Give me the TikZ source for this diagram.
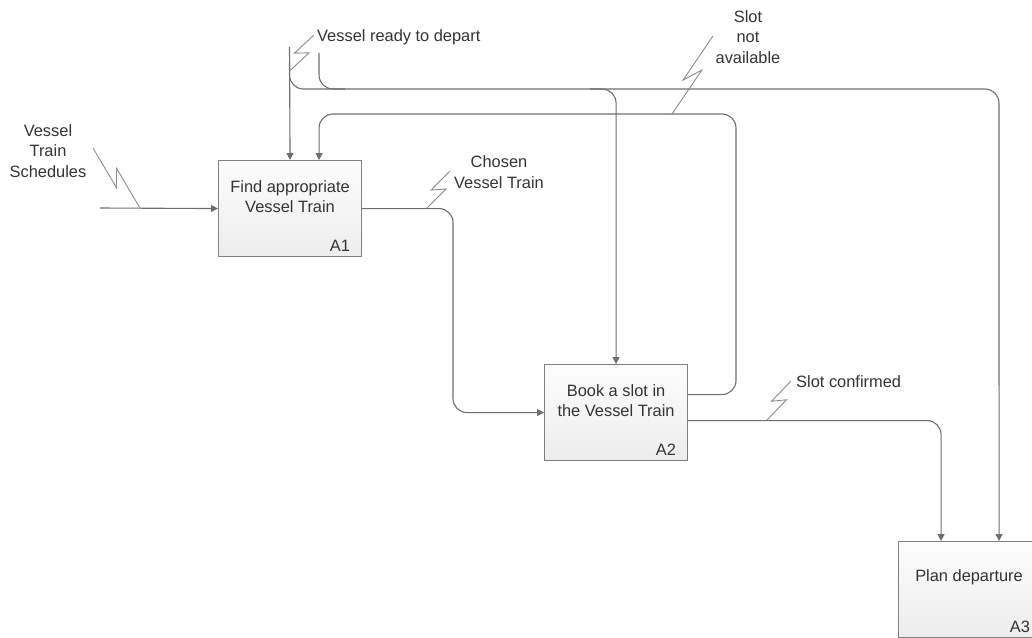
\documentclass[tikz,border=0pt]{standalone}
\usepackage{fontspec}
\setmainfont{Liberation Sans}
\usetikzlibrary{calc}
\usetikzlibrary{arrows.meta}
\definecolor{flowgrey}{HTML}{6E6E6E}
\definecolor{boxgrey}{HTML}{808080}
\definecolor{boltgrey}{HTML}{8C8C8C}
\definecolor{labelgrey}{HTML}{333333}

\tikzset{
  activity/.style={draw=boxgrey, line width=1.1pt, top color=black!1, bottom color=black!7,
    minimum width=143pt, minimum height=96pt, inner sep=0pt, anchor=north west},
  acttext/.style={align=center, text=labelgrey, inner sep=1pt},
  actid/.style={anchor=base east, text=labelgrey, inner sep=0pt},
  flow/.style={draw=flowgrey, line width=1.1pt, rounded corners=14pt},
  flowin/.style={flow, -{Triangle[length=7pt,width=7pt]}},
  bolt/.style={draw=boltgrey, line width=0.9pt},
  arrowlabel/.style={align=center, text=labelgrey, inner sep=1pt},
}
% lightning mark from a connector out to its label
\newcommand{\squiggle}[2]{\draw[bolt] (#1) -- ($(#1)!0.6!(#2)!6pt!-90:(#2)$) -- ($(#1)!0.4!(#2)!6pt!90:(#2)$) -- (#2);}

\begin{document}
\begin{tikzpicture}[x=1pt, y=-1pt, font=\fontsize{16.4}{20.5}\selectfont]
\useasboundingbox (0,0) rectangle (1032,637);
\clip (0,0) rectangle (1032,637); % A3 runs off the page

\coordinate (schedIn)      at (100,208);
\coordinate (readyTop)     at (289.5,47);
\coordinate (readyFork)    at (289.5,62);
\coordinate (readyLane)    at (999,89);
\coordinate (readyTopTwo)  at (319,53);
\coordinate (readyJoin)    at (345,89);
\coordinate (readyBranch)  at (590,89);
\coordinate (notAvailTop)  at (736,114);
\coordinate (chosenBend)   at (453,300);

% activities
\node[activity] (findTrain) at (218,160) {};
\node[activity] (bookSlot)  at (544,364) {};
\node[activity] (planDep)   at (898,541) {};

\node[acttext] (findTrainText) at ($(findTrain.center)+(0,-12)$) {Find appropriate\\Vessel Train};
\node[acttext] (bookSlotText)  at ($(bookSlot.center)+(0,-12)$)  {Book a slot in\\the Vessel Train};
\node[acttext] (planDepText)   at ($(planDep.center)+(-1,-12)$)  {Plan departure};

\node[actid] (findTrainId) at ($(findTrain.south east)+(-12,-6)$) {A1};
\node[actid] (bookSlotId)  at ($(bookSlot.south east)+(-12,-6)$)  {A2};
\node[actid] (planDepId)   at ($(planDep.south east)+(-12,-6)$)   {A3};

% arrows
\draw[flowin] (schedIn) -- (findTrain.west);
\draw[flowin] (readyTop) -- (findTrain.north);
\draw[flowin] (readyFork) |- (readyLane) -- ([xshift=29pt]planDep.north);
\draw[flow] (readyTopTwo) |- (readyJoin);
\draw[flowin] (readyBranch) -| (bookSlot.north);
\draw[flowin] (findTrain.east) -| (chosenBend) |- (bookSlot.west);
\draw[flowin] ([yshift=18pt]bookSlot.east) -| (notAvailTop) -| ([xshift=29pt]findTrain.north);
\draw[flowin] ([yshift=-8pt]bookSlot.east) -| ([xshift=-29pt]planDep.north);

% squiggles
\coordinate (schedBoltS)     at (140,208);
\coordinate (schedBoltE)     at (93,148);
\coordinate (readyBoltS)     at (289.5,71);
\coordinate (readyBoltE)     at (314,35);
\coordinate (notAvailBoltS)  at (672,114);
\coordinate (notAvailBoltE)  at (713,36);
\coordinate (chosenBoltS)    at (427,208);
\coordinate (chosenBoltE)    at (450,171);
\coordinate (confirmedBoltS) at (767,420);
\coordinate (confirmedBoltE) at (791,381);
\squiggle{schedBoltS}{schedBoltE}
\squiggle{readyBoltS}{readyBoltE}
\squiggle{notAvailBoltS}{notAvailBoltE}
\squiggle{chosenBoltS}{chosenBoltE}
\squiggle{confirmedBoltS}{confirmedBoltE}

% labels
\node[arrowlabel] (schedLabel) at (48,151) {Vessel\\Train\\Schedules};
\node[arrowlabel, anchor=west] (readyLabel) at (316,37) {Vessel ready to depart};
\node[arrowlabel] (notAvailLabel) at (748,37) {Slot\\not\\available};
\node[arrowlabel] (chosenLabel) at (499,172) {Chosen\\Vessel Train};
\node[arrowlabel, anchor=west] (confirmedLabel) at (795,382) {Slot confirmed};
\end{tikzpicture}
\end{document}
